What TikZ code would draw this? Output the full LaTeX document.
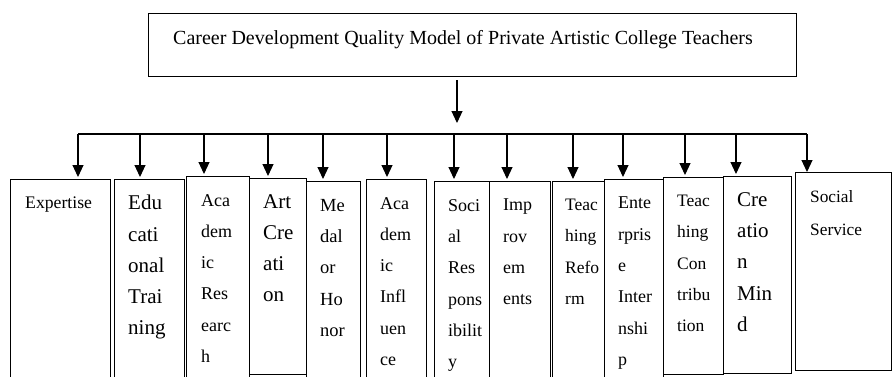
\documentclass[tikz,border=0pt]{standalone}
\usepackage{fontspec}
\setmainfont{Liberation Serif}
\usetikzlibrary{calc,arrows.meta}
\tikzstyle{titlebox} = [rectangle, draw=black, line width=1.1pt, anchor=north west, inner sep=0pt, minimum width=648pt, minimum height=63pt]
\tikzstyle{cell} = [rectangle, draw=black, line width=1.1pt, anchor=north west, inner sep=0pt]
\tikzstyle{celltext} = [anchor=north west, inner sep=0pt, align=left]
\tikzstyle{arrow} = [line width=1.1pt, -{Triangle[length=12pt,width=11pt]}, shorten >=2pt]
\newcommand{\cellsmall}{\fontsize{18}{31.3}\selectfont}
\newcommand{\cellbig}{\fontsize{21}{31.3}\selectfont}

\begin{document}
\begin{tikzpicture}[x=1pt,y=-1pt]
    \useasboundingbox (0,0) rectangle (892,376);

    % top box
    \node (model) [titlebox] at (148,13) {};
    \node (modeltext) [anchor=base west, inner sep=0pt, font=\fontsize{20}{24}\selectfont] at (173,44) {Career Development Quality Model of Private Artistic College Teachers};

    % the thirteen boxes
    \node (b1) [cell, minimum width=100pt, minimum height=210pt] at (10,179) {};
    \node (b2) [cell, minimum width=70pt, minimum height=210pt] at (114,179) {};
    \node (b3) [cell, minimum width=63pt, minimum height=210pt] at (186,176) {};
    \node (b4) [cell, minimum width=57pt, minimum height=196pt] at (249,178) {};
    \node (b5) [cell, minimum width=54pt, minimum height=210pt] at (306,181) {};
    \node (b6) [cell, minimum width=60pt, minimum height=210pt] at (366,179) {};
    \node (b7) [cell, minimum width=55pt, minimum height=210pt] at (434,181) {};
    \node (b8) [cell, minimum width=61pt, minimum height=210pt] at (489,181) {};
    \node (b9) [cell, minimum width=52pt, minimum height=210pt] at (552,181) {};
    \node (b10) [cell, minimum width=59pt, minimum height=210pt] at (604,179) {};
    \node (b11) [cell, minimum width=60pt, minimum height=197pt] at (663,177) {};
    \node (b12) [cell, minimum width=68pt, minimum height=197pt] at (723,176) {};
    \node (b13) [cell, minimum width=96pt, minimum height=198pt] at (795,172) {};

    % texts inside the boxes
    \node (t1) [celltext, font=\fontsize{17.7}{31.3}\selectfont] at ($(b1.north west)+(15,18)$) {Expertise};
    \node (t2) [celltext, font=\cellbig] at ($(b2.north west)+(14,16)$) {Edu\\cati\\onal\\Trai\\ning};
    \node (t3) [celltext, font=\cellsmall] at ($(b3.north west)+(15,18)$) {Aca\\dem\\ic\\Res\\earc\\h};
    \node (t4) [celltext, font=\cellbig] at ($(b4.north west)+(14,16)$) {Art\\Cre\\ati\\on};
    \node (t5) [celltext, font=\fontsize{18.5}{31.3}\selectfont] at ($(b5.north west)+(14,18)$) {Me\\dal\\or\\Ho\\nor};
    \node (t6) [celltext, font=\cellsmall] at ($(b6.north west)+(14,18)$) {Aca\\dem\\ic\\Infl\\uen\\ce};
    \node (t7) [celltext, font=\cellsmall] at ($(b7.north west)+(14,18)$) {Soci\\al\\Res\\pons\\ibilit\\y};
    \node (t8) [celltext, font=\cellsmall] at ($(b8.north west)+(14,18)$) {Imp\\rov\\em\\ents};
    \node (t9) [celltext, font=\fontsize{17.5}{31.3}\selectfont] at ($(b9.north west)+(13,18)$) {Teac\\hing\\Refo\\rm};
    \node (t10) [celltext, font=\cellsmall] at ($(b10.north west)+(14,18)$) {Ente\\rpris\\e\\Inter\\nshi\\p};
    \node (t11) [celltext, font=\fontsize{17.5}{31.3}\selectfont] at ($(b11.north west)+(14,18)$) {Teac\\hing\\Con\\tribu\\tion};
    \node (t12) [celltext, font=\cellbig] at ($(b12.north west)+(14,16)$) {Cre\\atio\\n\\Min\\d};
    \node (t13) [celltext, font=\fontsize{17.3}{33}\selectfont] at ($(b13.north west)+(15,18)$) {Social\\Service};

    % the branching line
    \coordinate (h1) at (78,134);
    \coordinate (h2) at (140,134);
    \coordinate (h3) at (204,134);
    \coordinate (h4) at (268,134);
    \coordinate (h5) at (323,134);
    \coordinate (h6) at (387,134);
    \coordinate (h7) at (454,134);
    \coordinate (h8) at (507,134);
    \coordinate (h9) at (573,134);
    \coordinate (h10) at (623,134);
    \coordinate (h11) at (685,134);
    \coordinate (h12) at (736,134);
    \coordinate (h13) at (807,134);
    \coordinate (join) at (457,123);

    \draw [line width=1.1pt] (h1) -- (h13);
    \draw [arrow, shorten >=0pt, shorten <=3pt] (join |- model.south) -- (join);
    \draw [arrow] (h1) -- (h1 |- b1.north);
    \draw [arrow] (h2) -- (h2 |- b2.north);
    \draw [arrow] (h3) -- (h3 |- b3.north);
    \draw [arrow] (h4) -- (h4 |- b4.north);
    \draw [arrow] (h5) -- (h5 |- b5.north);
    \draw [arrow] (h6) -- (h6 |- b6.north);
    \draw [arrow] (h7) -- (h7 |- b7.north);
    \draw [arrow] (h8) -- (h8 |- b8.north);
    \draw [arrow] (h9) -- (h9 |- b9.north);
    \draw [arrow] (h10) -- (h10 |- b10.north);
    \draw [arrow] (h11) -- (h11 |- b11.north);
    \draw [arrow] (h12) -- (h12 |- b12.north);
    \draw [arrow, shorten >=0pt] (h13) -- (h13 |- b13.north);
\end{tikzpicture}
\end{document}
